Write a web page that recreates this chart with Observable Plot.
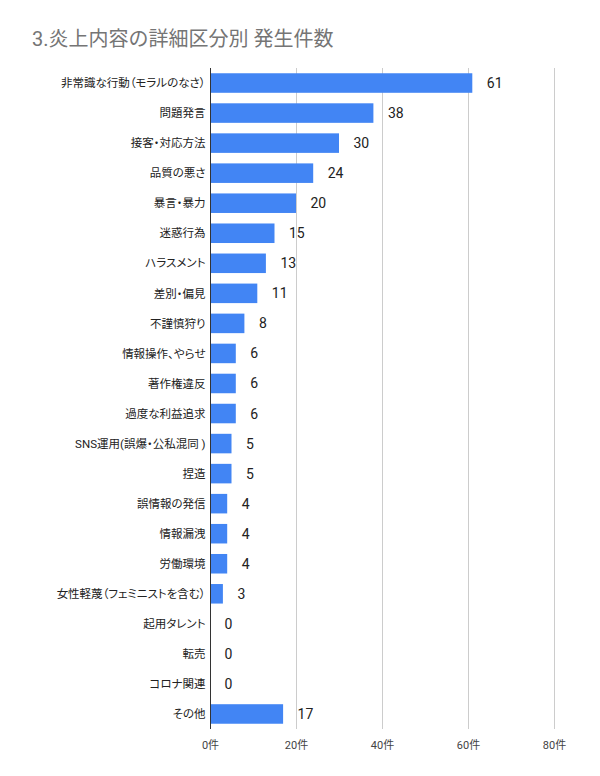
<!DOCTYPE html>
<html><head><meta charset="utf-8">
<script src="https://cdn.jsdelivr.net/npm/d3@7"></script>
<script src="https://cdn.jsdelivr.net/npm/@observablehq/plot@0.6"></script>
<style>
body{margin:0;background:#fff;font-family:Roboto,"Noto Sans CJK JP",sans-serif;}
#title{height:60px;box-sizing:border-box;padding:28px 0 0 32px;font-size:20px;color:#757575;line-height:22px;}
#chart svg{display:block;}
#chart svg text{font-feature-settings:"palt";}
</style></head>
<body>
<div id="title">3.炎上内容の詳細区分別 発生件数</div>
<div id="chart"></div>
<script>
const categories = ["非常識な行動（モラルのなさ）","問題発言","接客・対応方法","品質の悪さ","暴言・暴力","迷惑行為","ハラスメント","差別・偏見","不謹慎狩り","情報操作、やらせ","著作権違反","過度な利益追求","SNS運用(誤爆・公私混同 )","捏造","誤情報の発信","情報漏洩","労働環境","女性軽蔑（フェミニストを含む）","起用タレント","転売","コロナ関連","その他"];
const counts = [61,38,30,24,20,15,13,11,8,6,6,6,5,5,4,4,4,3,0,0,0,17];
const xTicks = [0,20,40,60,80];
const data = categories.map((c,i)=>({category:c, value:counts[i]}));

const chart = Plot.plot({
  width: 600,
  height: 716,
  marginLeft: 210,
  marginRight: 46,
  marginTop: 8,
  marginBottom: 47,
  style: {fontFamily: 'Roboto,"Noto Sans CJK JP",sans-serif', color: "#222", background: "#fff"},
  x: {domain: [0, 80], ticks: xTicks, tickFormat: d => d + "件", label: null},
  y: {domain: categories, label: null, paddingInner: 0.35, paddingOuter: 0.175, round: false},
  marks: [
    Plot.gridX(xTicks.filter(d => d > 0), {stroke: "#ccc", strokeOpacity: 1}),
    Plot.barX(data, {y: "category", x: "value", fill: "#4285F4"}),
    Plot.ruleX([0], {stroke: "#333", strokeWidth: 1}),
    Plot.text(data, {y: "category", x: "value", text: d => String(d.value), dx: 14, textAnchor: "start", fontSize: 14, fill: "#222"}),
    Plot.axisY({tickSize: 0, tickPadding: 5, fontSize: 11.5, fill: "#222"}),
    Plot.axisX(xTicks, {tickSize: 0, tickPadding: 12, fontSize: 11, fill: "#444", tickFormat: d => d + "件"})
  ]
});
document.getElementById("chart").appendChild(chart);
</script>
</body></html>
